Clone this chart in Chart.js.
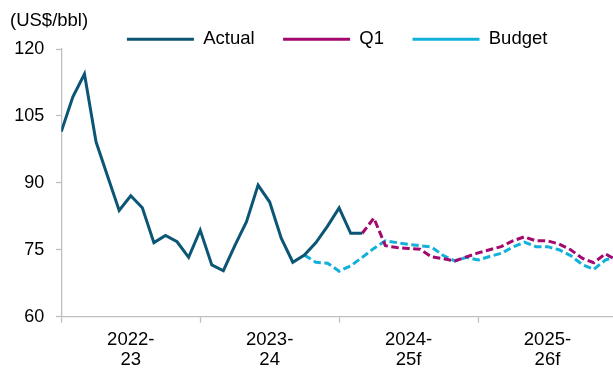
<!DOCTYPE html>
<html>
<head>
<meta charset="utf-8">
<title>Oil price: actual and forecasts</title>
<script src="https://cdn.jsdelivr.net/npm/chart.js@4/dist/chart.umd.min.js"></script>
<style>
  html, body { margin: 0; padding: 0; background: #ffffff; overflow: hidden; }
  #wrap { width: 613px; height: 369px; }
</style>
</head>
<body>
<div id="wrap"><canvas id="chart" width="613" height="369"></canvas></div>
<script>
// Monthly periods, July 2022 onward
const months = [
  'Jul-22','Aug-22','Sep-22','Oct-22','Nov-22','Dec-22','Jan-23','Feb-23','Mar-23','Apr-23','May-23','Jun-23',
  'Jul-23','Aug-23','Sep-23','Oct-23','Nov-23','Dec-23','Jan-24','Feb-24','Mar-24','Apr-24','May-24','Jun-24',
  'Jul-24','Aug-24','Sep-24','Oct-24','Nov-24','Dec-24','Jan-25','Feb-25','Mar-25','Apr-25','May-25','Jun-25',
  'Jul-25','Aug-25','Sep-25','Oct-25','Nov-25','Dec-25','Jan-26','Feb-26','Mar-26','Apr-26','May-26','Jun-26',
  'Jul-26'
];

// Financial-year labels shown under the axis
const fyLabels = [['2022-', '23'], ['2023-', '24'], ['2024-', '25f'], ['2025-', '26f']];

// US$/bbl
const actual = [
  101.5, 109.3, 114.4, 99.2, 91.5, 83.8, 87.1, 84.4, 76.6, 78.2, 76.8, 73.3,
  79.4, 71.6, 70.3, 76.0, 81.3, 89.5, 85.7, 77.6, 72.2, 73.8, 76.6, 80.3,
  84.4, 78.7, 78.7
];
const q1 = [
  null, null, null, null, null, null, null, null, null, null, null, null,
  null, null, null, null, null, null, null, null, null, null, null, null,
  null, null, 78.7, 82.1, 75.9, 75.5, 75.3, 75.1, 73.4, 73.0, 72.5, 73.4,
  74.3, 75.0, 75.7, 77.0, 77.9, 77.0, 77.0, 76.3, 75.0, 73.1, 72.1, 74.1,
  72.6
];
const budget = [
  null, null, null, null, null, null, null, null, null, null, null, null,
  null, null, null, null, null, null, null, null, null, 73.8, 72.2, 72.0,
  70.2, 71.4, 73.3, 75.3, 77.0, 76.6, 76.2, 75.9, 75.6, 73.7, 72.5, 73.3,
  72.7, 73.5, 74.2, 75.6, 76.7, 75.7, 75.7, 75.0, 73.7, 71.7, 70.6, 72.7,
  73.6
];

// y-axis ticks
const yTicks = [60, 75, 90, 105, 120];

const FONT = "'Liberation Sans', Arial, sans-serif";
const AXIS = '#bfbfbf';
Chart.defaults.font.family = FONT;
Chart.defaults.color = '#000000';

const toPoints = arr => arr.map((v, i) => ({ x: i, y: v }));

// Draws the unit caption in the top-left corner
const unitCaption = {
  id: 'unitCaption',
  afterDraw(chart) {
    const ctx = chart.ctx;
    ctx.save();
    ctx.font = '18.5px ' + FONT;
    ctx.fillStyle = '#000000';
    ctx.textBaseline = 'middle';
    ctx.textAlign = 'left';
    ctx.fillText('(US$/bbl)', 10, 20.5);
    ctx.restore();
  }
};

new Chart(document.getElementById('chart'), {
  type: 'line',
  data: {
    labels: months,
    datasets: [
      {
        label: 'Actual',
        data: toPoints(actual),
        borderColor: '#0c5675',
        backgroundColor: '#0c5675',
        borderWidth: 3,
        pointRadius: 0,
        tension: 0,
        spanGaps: false
      },
      {
        label: 'Q1',
        data: toPoints(q1),
        borderColor: '#a3086e',
        backgroundColor: '#a3086e',
        borderWidth: 3,
        borderDash: [7.5, 3.5],
        pointRadius: 0,
        tension: 0
      },
      {
        label: 'Budget',
        data: toPoints(budget),
        borderColor: '#12b1d9',
        backgroundColor: '#12b1d9',
        borderWidth: 3,
        borderDash: [7.5, 3.5],
        pointRadius: 0,
        tension: 0
      }
    ]
  },
  options: {
    responsive: false,
    animation: false,
    devicePixelRatio: 1,
    layout: { padding: { top: 1.5, left: 0, right: 0, bottom: 0 } },
    plugins: {
      title: { display: false },
      tooltip: { enabled: false },
      legend: {
        display: true,
        position: 'top',
        fullSize: false,
        maxHeight: 47.5,
        labels: {
          usePointStyle: true,
          pointStyle: 'line',
          pointStyleWidth: 67,
          padding: 28.5,
          color: '#000000',
          font: { size: 18.5, family: FONT }
        }
      }
    },
    scales: {
      x: {
        type: 'linear',
        position: 'bottom',
        min: 0,
        max: 47.66,
        offset: false,
        afterBuildTicks(scale) {
          const t = [];
          for (let i = 0; i < months.length - 1; i += 6) t.push({ value: i });
          scale.ticks = t;
        },
        afterFit(scale) { scale.height = 52.3; },
        grid: {
          drawOnChartArea: false,
          drawTicks: true,
          tickLength: 6,
          tickWidth: 1.3,
          tickColor: ctx => (ctx.tick && ctx.tick.value % 12 === 0) ? AXIS : 'rgba(0,0,0,0)'
        },
        border: { display: true, color: AXIS, width: 1.3 },
        ticks: {
          autoSkip: false,
          maxRotation: 0,
          minRotation: 0,
          padding: 7,
          color: '#000000',
          font: { size: 18.5, family: FONT, lineHeight: '20px' },
          callback: value => (value % 12 === 6) ? fyLabels[(value - 6) / 12] : ''
        }
      },
      y: {
        min: 60,
        max: 120,
        afterBuildTicks(scale) { scale.ticks = yTicks.map(v => ({ value: v })); },
        afterFit(scale) { scale.width = 61.3; },
        grid: {
          drawOnChartArea: false,
          drawTicks: true,
          tickLength: 5.5,
          tickWidth: 1.3,
          tickColor: AXIS
        },
        border: { display: true, color: AXIS, width: 1.3 },
        ticks: {
          padding: 11.5,
          color: '#000000',
          font: { size: 18, family: FONT }
        }
      }
    }
  },
  plugins: [unitCaption]
});
</script>
</body>
</html>
